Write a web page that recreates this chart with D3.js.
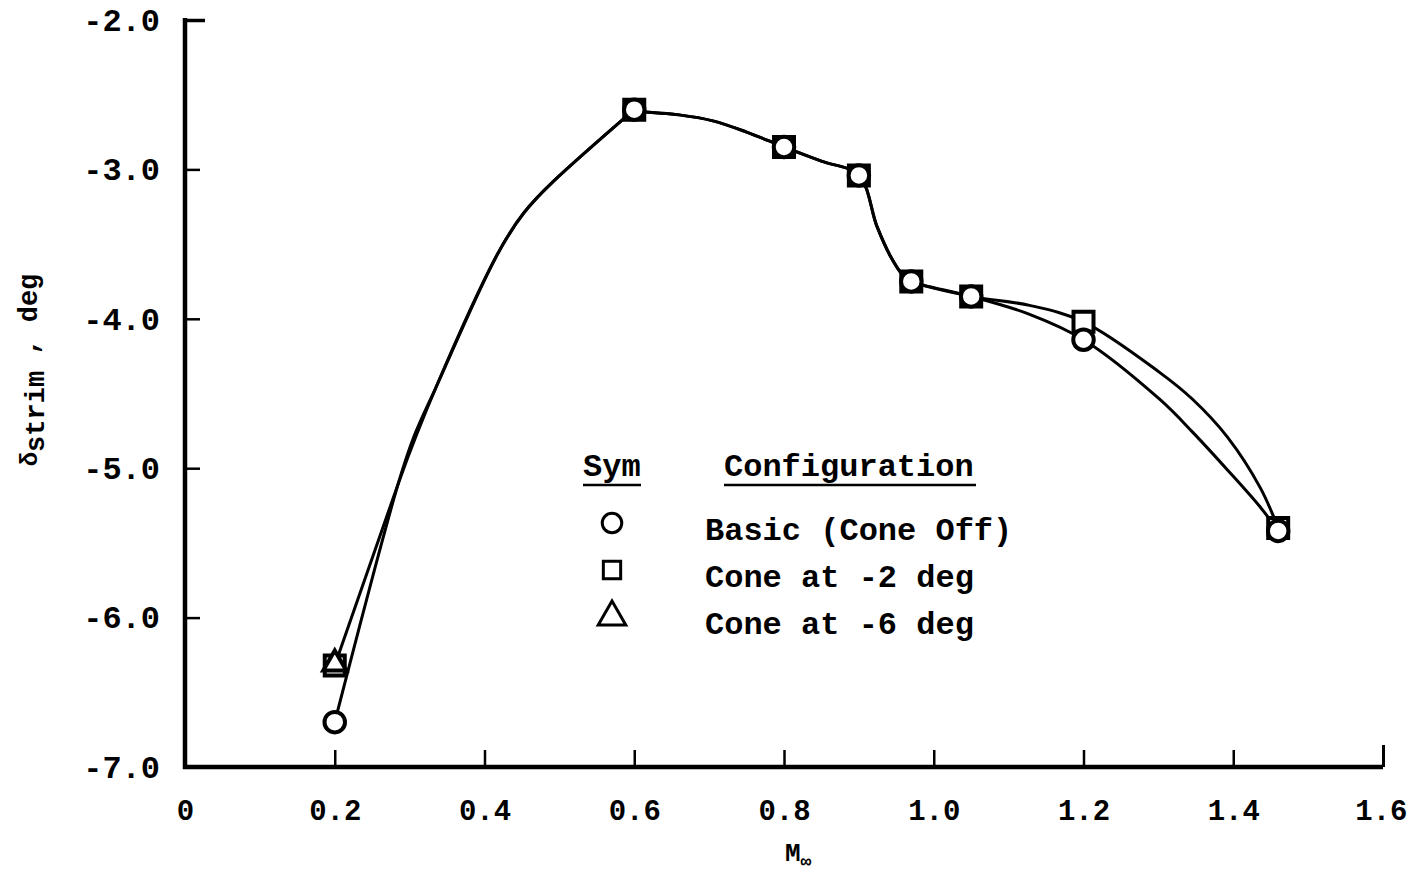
<!DOCTYPE html>
<html>
<head>
<meta charset="utf-8">
<script src="https://cdn.jsdelivr.net/npm/d3@7"></script>
<style>
  html, body { margin: 0; padding: 0; background: #fff; }
  svg { display: block; }
  text { font-family: "Liberation Mono", "DejaVu Sans Mono", monospace; font-weight: bold; fill: #000; }
</style>
</head>
<body>
<svg id="chart" width="1410" height="878"></svg>
<script>
// ---------- data ----------
const machNumbers   = [0.2, 0.6, 0.8, 0.9, 0.97, 1.05, 1.2, 1.46];
const basicValues   = [-6.70, -2.60, -2.85, -3.04, -3.75, -3.85, -4.14, -5.42];   // circles
const cone2Values   = [-6.32, -2.60, -2.85, -3.04, -3.75, -3.85, -4.02, -5.40];   // squares
const cone6Mach     = [0.2];
const cone6Values   = [-6.31];                                                  // triangles

// faired curves as drawn in the reference
// rising branch (M <= 0.6)
const basicRiseMach = [0.2, 0.285, 0.336, 0.416, 0.492, 0.6];
const basicRiseVal  = [-6.70, -5.10, -4.45, -3.58, -3.08, -2.60];
const cone2RiseMach = [0.2, 0.285, 0.336, 0.416, 0.492, 0.6];
const cone2RiseVal  = [-6.32, -5.10, -4.45, -3.58, -3.08, -2.60];
// falling branch (M >= 0.6)
const basicFallMach = [0.6, 0.66, 0.705, 0.75, 0.8, 0.85, 0.9, 0.924, 0.942, 0.959, 0.97, 1.05, 1.128, 1.2, 1.302, 1.346, 1.392, 1.436, 1.46];
const basicFallVal  = [-2.61, -2.635, -2.675, -2.75, -2.85, -2.945, -3.04, -3.38, -3.58, -3.71, -3.75, -3.85, -3.97, -4.14, -4.54, -4.76, -5.01, -5.26, -5.42];
const cone2FallMach = [0.6, 0.66, 0.705, 0.75, 0.8, 0.85, 0.9, 0.924, 0.942, 0.959, 0.97, 1.05, 1.128, 1.2, 1.302, 1.346, 1.392, 1.436, 1.46];
const cone2FallVal  = [-2.61, -2.635, -2.675, -2.75, -2.85, -2.945, -3.04, -3.38, -3.58, -3.71, -3.75, -3.85, -3.91, -4.02, -4.36, -4.54, -4.79, -5.13, -5.40];

const xTickValues = [0, 0.2, 0.4, 0.6, 0.8, 1.0, 1.2, 1.4, 1.6];
const xTickLabels = ["0", "0.2", "0.4", "0.6", "0.8", "1.0", "1.2", "1.4", "1.6"];
const yTickValues = [-7, -6, -5, -4, -3, -2];
const yTickLabels = ["-7.0", "-6.0", "-5.0", "-4.0", "-3.0", "-2.0"];

const legendSymbols = ["circle", "square", "triangle"];
const legendLabels  = ["Basic (Cone Off)", "Cone at -2 deg", "Cone at -6 deg"];

// ---------- chart ----------
const svg = d3.select("#chart");
const x = d3.scaleLinear().domain([0, 1.6]).range([185, 1383]);
const y = d3.scaleLinear().domain([-7, -2]).range([767, 20]);

const FONT = 32;

// x axis
const xAxis = d3.axisBottom(x)
  .tickValues(xTickValues)
  .tickFormat((d, i) => xTickLabels[i])
  .tickSizeInner(-17).tickSizeOuter(0).tickPadding(0);
const gx = svg.append("g").attr("transform", `translate(0,${y(-7)})`).call(xAxis);
gx.select(".domain").attr("stroke", "#000").attr("stroke-width", 4.5).attr("d", `M${x(0) - 2},0H${x(1.6)}`);
gx.selectAll(".tick line").attr("stroke", "#000").attr("stroke-width", 2.5);
gx.selectAll(".tick").filter(d => d === 0).select("line").remove();
gx.selectAll(".tick").filter(d => d === 1.6).select("line").attr("y2", -22).attr("stroke-width", 3);

// y axis
const yAxis = d3.axisLeft(y)
  .tickValues(yTickValues)
  .tickFormat((d, i) => yTickLabels[i])
  .tickSizeInner(-15).tickSizeOuter(0).tickPadding(25);
const gy = svg.append("g").attr("transform", `translate(${x(0)},0)`).call(yAxis);
gy.select(".domain").attr("stroke", "#000").attr("stroke-width", 4.5).attr("d", `M0,${y(-2) - 2}V${y(-7) + 2}`);
gy.selectAll(".tick line").attr("stroke", "#000").attr("stroke-width", 2.5);
gy.selectAll(".tick").filter(d => d === -7).select("line").remove();
gy.selectAll(".tick").filter(d => d === -2).select("line").attr("x2", 20).attr("stroke-width", 3.5);
svg.selectAll(".tick text").attr("font-family", null).attr("font-size", null);
gy.selectAll(".tick text").style("font-size", FONT + "px");
gx.selectAll(".tick text").attr("dy", null).attr("y", 53).style("font-size", "29px");
gx.selectAll(".tick").filter(d => d === 1.6).select("text").attr("text-anchor", "end").attr("x", 24);

// axis titles
const yTitle = svg.append("text")
  .attr("transform", `translate(37,370) rotate(-90)`)
  .attr("text-anchor", "middle")
  .style("font-size", "27px");
yTitle.append("tspan").text("δ").style("font-size", "24px");
yTitle.append("tspan").text("strim").attr("dy", 7);
yTitle.append("tspan").text(" , deg").attr("dy", -7);

const xTitle = svg.append("text")
  .attr("x", 785).attr("y", 861)
  .style("font-size", "26px");
xTitle.append("tspan").text("M");
xTitle.append("tspan").text("∞").attr("dy", 6).style("font-size", "18px");

// faired curves
const riseLine = d3.line()
  .x(d => x(d[0]))
  .y(d => y(d[1]))
  .curve(d3.curveNatural);
const fallLine = d3.line()
  .x(d => x(d[0]))
  .y(d => y(d[1]))
  .curve(d3.curveCatmullRom.alpha(0.5));

const curveGroup = svg.append("g")
  .attr("fill", "none")
  .attr("stroke", "#000")
  .attr("stroke-width", 3)
  .attr("stroke-linejoin", "round");
curveGroup.selectAll("path.rise")
  .data([d3.zip(basicRiseMach, basicRiseVal), d3.zip(cone2RiseMach, cone2RiseVal)])
  .join("path").attr("class", "rise").attr("d", riseLine);
curveGroup.selectAll("path.fall")
  .data([d3.zip(basicFallMach, basicFallVal), d3.zip(cone2FallMach, cone2FallVal)])
  .join("path").attr("class", "fall").attr("d", fallLine);

// markers
const symType = { circle: d3.symbolCircle, square: d3.symbolSquare, triangle: d3.symbolTriangle };
const symSize = { circle: 330, square: 400, triangle: 230 };
function drawMarkers(machs, vals, kind, sw) {
  svg.append("g").selectAll("path").data(d3.zip(machs, vals)).join("path")
    .attr("transform", d => `translate(${x(d[0])},${y(d[1])})`)
    .attr("d", d3.symbol().type(symType[kind]).size(symSize[kind]))
    .attr("fill", "#fff")
    .attr("stroke", "#000")
    .attr("stroke-width", sw);
}
drawMarkers(machNumbers, cone2Values, "square", 4);
drawMarkers(machNumbers, basicValues, "circle", 4);
drawMarkers(cone6Mach, cone6Values, "triangle", 4);

// legend
const lg = svg.append("g");
lg.append("text").attr("x", 583).attr("y", 476).style("font-size", FONT + "px").text("Sym");
lg.append("text").attr("x", 724).attr("y", 476).style("font-size", FONT + "px").text("Configuration");
lg.append("line").attr("x1", 583).attr("x2", 641).attr("y1", 485).attr("y2", 485).attr("stroke", "#000").attr("stroke-width", 2.5);
lg.append("line").attr("x1", 724).attr("x2", 976).attr("y1", 485).attr("y2", 485).attr("stroke", "#000").attr("stroke-width", 2.5);
legendSymbols.forEach((s, i) => {
  const cy = 523 + i * 47;
  lg.append("path")
    .attr("transform", `translate(612,${cy})`)
    .attr("d", d3.symbol().type(symType[s]).size(s === "triangle" ? 330 : 300))
    .attr("fill", "none").attr("stroke", "#000").attr("stroke-width", 3);
  lg.append("text").attr("x", 705).attr("y", cy + 17).style("font-size", FONT + "px").text(legendLabels[i]);
});
</script>
</body>
</html>
